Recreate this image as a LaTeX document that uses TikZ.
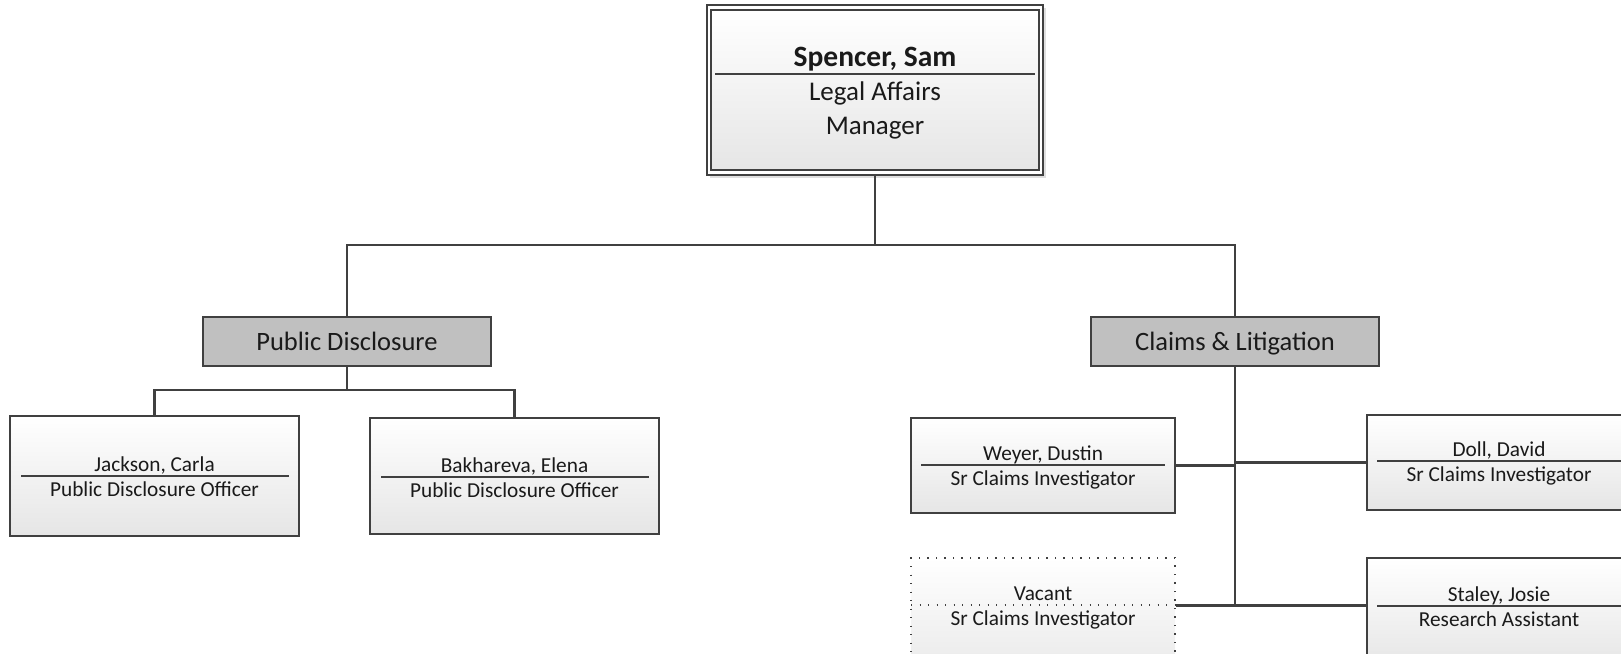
\documentclass[tikz,border=0pt]{standalone}
\usepackage{fontspec}
\setmainfont{Carlito}
\usetikzlibrary{shadows}
\definecolor{edge}{HTML}{404040}
\definecolor{dept}{HTML}{C0C0C0}
\definecolor{ink}{HTML}{1A1A1A}
\begin{document}
\begin{tikzpicture}[x=1pt,y=-1pt,
  conn/.style={draw=edge,line width=2.2pt},
  person/.style={draw=edge,line width=1.4pt,rectangle,inner sep=0pt,
    top color=white,bottom color=black!10,minimum width=264pt,minimum height=95pt},
  sparsedots/.style={line width=1.3pt,dash pattern=on 1.3pt off 7.2pt},
  vacantbox/.style={draw=edge,sparsedots,rectangle,inner sep=0pt,
    top color=white,bottom color=black!8,minimum width=264pt,minimum height=95pt},
  deptbox/.style={draw=edge,line width=1.6pt,fill=dept,rectangle,inner sep=0pt,
    minimum width=288pt,minimum height=49pt,font=\fontsize{26.5}{30}\selectfont,text=ink,
    text height=23pt,text depth=5pt},
  small/.style={font=\fontsize{21.3}{24}\selectfont,text=ink,inner sep=0pt,
    text height=14.5pt,text depth=4.5pt},
  big/.style={font=\fontsize{27}{30}\selectfont,text=ink,inner sep=0pt,
    text height=18pt,text depth=6pt},
  divider/.style={draw=edge,line width=1.2pt}
]
\useasboundingbox (0,0) rectangle (1621,653);

% top manager box
\node[draw=edge,line width=1.4pt,fill=white,minimum width=336pt,minimum height=170pt,inner sep=0pt,
  drop shadow={shadow xshift=3pt,shadow yshift=-3pt,opacity=0.25}] (top) at (875,90) {};
\node[draw=edge,line width=1.4pt,top color=white,bottom color=black!10,minimum width=328pt,minimum height=160pt,inner sep=0pt] (topin) at (875,90) {};
\draw[divider] (715,74) -- (1035,74);
\node[big,font=\fontsize{29.5}{32}\selectfont\bfseries] (topname) at (875,60) {Spencer, Sam};
\node[big] (toprole1) at (875,94) {Legal Affairs};
\node[big] (toprole2) at (875,128) {Manager};

% departments
\node[deptbox] (pd) at (347,341.5) {Public Disclosure};
\node[deptbox] (cl) at (1235,341.5) {Claims \& Litigation};

% public disclosure staff
\node[person,minimum width=289pt,minimum height=120pt] (jackson) at (154.5,476) {};
\draw[divider] (21,476) -- (289,476);
\node[small] (jname) at (154.5,466) {Jackson, Carla};
\node[small] (jrole) at (154.5,491) {Public Disclosure Officer};

\node[person,minimum width=289pt,minimum height=116pt] (bakh) at (514.5,476) {};
\draw[divider] (381,477) -- (649,477);
\node[small] (bname) at (514.5,467) {Bakhareva, Elena};
\node[small] (brole) at (514.5,492) {Public Disclosure Officer};

% claims staff
\node[person] (weyer) at (1043,465.5) {};
\draw[divider] (921,465) -- (1165,465);
\node[small] (wname) at (1043,455) {Weyer, Dustin};
\node[small] (wrole) at (1043,480) {Sr Claims Investigator};

\node[person] (doll) at (1499,462.5) {};
\draw[divider] (1377,461) -- (1621,461);
\node[small] (dname) at (1499,451) {Doll, David};
\node[small] (drole) at (1499,476) {Sr Claims Investigator};

\node[vacantbox,minimum height=110pt] (vacant) at (1043,613) {};
\draw[edge,sparsedots] (911,605) -- (1175,605);
\node[small] (vname) at (1043,595) {Vacant};
\node[small] (vrole) at (1043,620) {Sr Claims Investigator};

\node[person,minimum height=110pt] (staley) at (1499,613) {};
\draw[divider] (1377,606) -- (1621,606);
\node[small] (sname) at (1499,596) {Staley, Josie};
\node[small] (srole) at (1499,621) {Research Assistant};

% connectors
\coordinate (bus) at (875,245);
\draw[conn] (top.south) -- (bus) -| (pd.north);
\draw[conn] (bus) -| (cl.north);
\coordinate (pdbus) at (347,390);
\draw[conn] (pd.south) -- (pdbus) -| (jackson.north);
\draw[conn] (pdbus) -| (bakh.north);
\coordinate (clend) at (1235,605.5);
\draw[conn] (cl.south) -- (clend);
\draw[conn] (weyer.east) -- (weyer.east -| cl.south);
\draw[conn] (doll.west) -- (doll.west -| cl.south);
\draw[conn] (vacant.east |- clend) -- (clend);
\draw[conn] (staley.west |- clend) -- (clend);
\end{tikzpicture}
\end{document}
